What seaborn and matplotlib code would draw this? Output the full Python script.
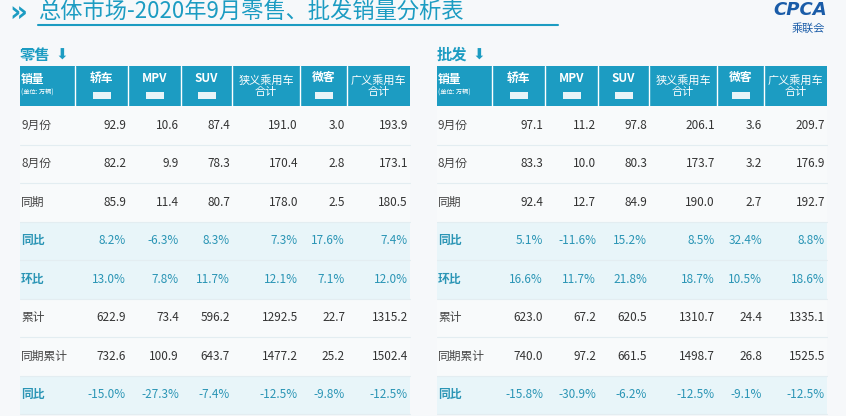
import matplotlib
matplotlib.use("Agg")
import matplotlib.pyplot as plt
import seaborn as sns
from matplotlib.patches import Rectangle

sns.set_theme(style="white")
CJK = "Noto Sans CJK JP"
plt.rcParams["font.family"] = "sans-serif"
plt.rcParams["font.sans-serif"] = [CJK, "DejaVu Sans"]

title = "总体市场-2020年9月零售、批发销量分析表"
columns = ["轿车", "MPV", "SUV", "狭义乘用车\n合计", "微客", "广义乘用车\n合计"]
row_labels = ["9月份", "8月份", "同期", "同比", "环比", "累计", "同期累计", "同比"]
pct_rows = [3, 4, 7]

retail = [
    ["92.9", "10.6", "87.4", "191.0", "3.0", "193.9"],
    ["82.2", "9.9", "78.3", "170.4", "2.8", "173.1"],
    ["85.9", "11.4", "80.7", "178.0", "2.5", "180.5"],
    ["8.2%", "-6.3%", "8.3%", "7.3%", "17.6%", "7.4%"],
    ["13.0%", "7.8%", "11.7%", "12.1%", "7.1%", "12.0%"],
    ["622.9", "73.4", "596.2", "1292.5", "22.7", "1315.2"],
    ["732.6", "100.9", "643.7", "1477.2", "25.2", "1502.4"],
    ["-15.0%", "-27.3%", "-7.4%", "-12.5%", "-9.8%", "-12.5%"],
]
wholesale = [
    ["97.1", "11.2", "97.8", "206.1", "3.6", "209.7"],
    ["83.3", "10.0", "80.3", "173.7", "3.2", "176.9"],
    ["92.4", "12.7", "84.9", "190.0", "2.7", "192.7"],
    ["5.1%", "-11.6%", "15.2%", "8.5%", "32.4%", "8.8%"],
    ["16.6%", "11.7%", "21.8%", "18.7%", "10.5%", "18.6%"],
    ["623.0", "67.2", "620.5", "1310.7", "24.4", "1335.1"],
    ["740.0", "97.2", "661.5", "1498.7", "26.8", "1525.5"],
    ["-15.8%", "-30.9%", "-6.2%", "-12.5%", "-9.1%", "-12.5%"],
]

TEAL = "#1c9cc2"
TXT_TEAL = "#2a95b5"

fig = plt.figure(figsize=(8.46, 4.16), dpi=100)
fig.patch.set_facecolor("#f6f8fa")
ax = fig.add_axes([0, 0, 1, 1])
ax.set_xlim(0, 846)
ax.set_ylim(416, 0)
ax.axis("off")

ax.text(9, 13, "»", color=TEAL, fontsize=20, fontweight="bold", va="center", family="DejaVu Sans")
ax.text(38, 12, title, color=TEAL, fontsize=16, va="center", family=CJK)
ax.plot([38, 558], [25, 25], color=TEAL, lw=1.5)
ax.text(800, 10, "CPCA", color="#1a5ca8", fontsize=13, fontstyle="italic", fontweight="bold",
        ha="center", va="center", family="DejaVu Sans")
ax.text(808, 29, "乘联会", color="#1a5ca8", fontsize=8, ha="center", va="center", family=CJK)

edges = [20, 75, 128, 181, 232, 300, 347, 410]

def draw_table(x0, name, data):
    e = [x0 + v - 20 for v in edges]
    ax.text(e[0], 55, name, color=TEAL, fontsize=11, fontweight="bold", va="center", family=CJK)
    ax.text(e[0] + 35, 55, "⬇", color=TEAL, fontsize=11, va="center", family="DejaVu Sans")
    ax.add_patch(Rectangle((e[0], 66), e[-1] - e[0], 40, color=TEAL, lw=0))
    for xe in e[1:-1]:
        ax.plot([xe, xe], [66, 106], color="white", lw=1)
    ax.text(e[0] + 1, 79, "销量", color="white", fontsize=8.5, fontweight="bold", va="center", family=CJK)
    ax.text(e[0] + 1, 93, "(单位: 万辆)", color="white", fontsize=4.5, va="center", family=CJK)
    for i, c in enumerate(columns):
        cx = (e[i + 1] + e[i + 2]) / 2
        if "\n" in c:
            ax.text(cx, 86, c, color="white", fontsize=8, ha="center", va="center",
                    linespacing=1.2, family=CJK)
        else:
            ax.text(cx, 78, c, color="white", fontsize=8.5, ha="center", va="center",
                    fontweight="bold", family=CJK)
            ax.add_patch(Rectangle((cx - 9, 92), 18, 7, color="white", lw=0, alpha=0.9))
    rh = 38.5
    for r, lab in enumerate(row_labels):
        y0 = 106 + r * rh
        cy = y0 + rh / 2
        pct = r in pct_rows
        ax.add_patch(Rectangle((e[0], y0), e[-1] - e[0], rh,
                               color="#e8f5f9" if pct else "#f8fafb", lw=0))
        ax.plot([e[0], e[-1]], [y0 + rh, y0 + rh], color="#e3edf1", lw=0.8)
        ax.text(e[0] + 1, cy, lab, color=TXT_TEAL if pct else "#444444", fontsize=8.5,
                fontweight="bold" if pct else "normal", va="center", family=CJK)
        for j, v in enumerate(data[r]):
            ax.text(e[j + 2] - 2, cy, v, color=TXT_TEAL if pct else "#333333",
                    fontsize=8.5, ha="right", va="center", family=CJK)

draw_table(20, "零售", retail)
draw_table(437, "批发", wholesale)

fig.savefig("out.png", dpi=100, facecolor=fig.get_facecolor())
